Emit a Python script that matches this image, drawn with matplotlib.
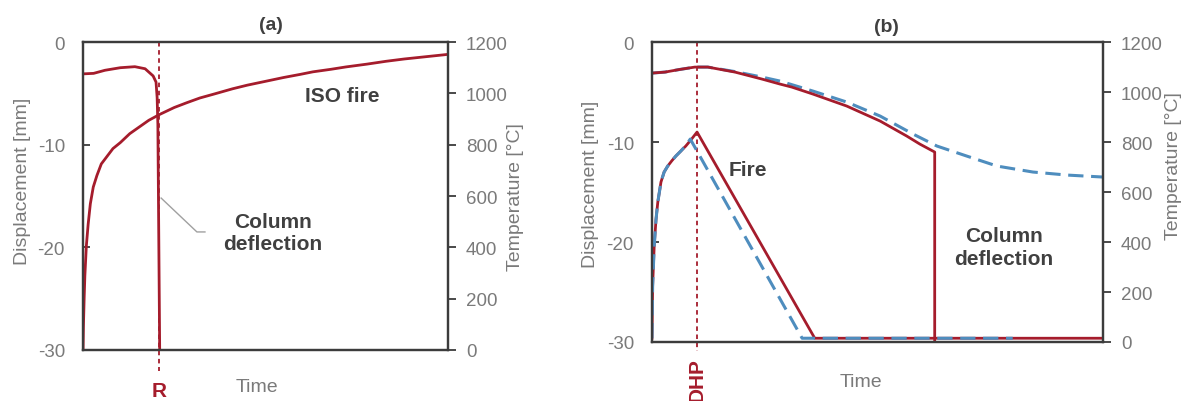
import matplotlib
matplotlib.use("Agg")
import matplotlib.pyplot as plt
import matplotlib.transforms as mtransforms

plt.rcParams["font.family"] = ["Liberation Sans", "DejaVu Sans"]
plt.rcParams["axes.unicode_minus"] = False

# ---------------------------------------------------------------
# Datos (tiempo en unidades relativas 0-100)
# ---------------------------------------------------------------
# (a) curva ISO (eje derecho, grados C)
a_iso_t = [0, 0.1, 0.3, 0.5, 0.9, 1.4, 2.0, 2.8, 3.8, 5.0, 6.6, 8.2, 10.2, 12.8, 15.7, 18, 21,
           25, 28.5, 32, 35.8, 41, 45, 50, 55, 59.5, 63, 68, 72, 77.8, 83, 88, 94, 100]
a_iso_T = [0, 90, 200, 290, 405, 490, 570, 635, 680, 725, 755, 785, 808, 843, 872, 895, 918,
           945, 964, 982, 997, 1018, 1032, 1047, 1062, 1074, 1084, 1094, 1103, 1114, 1125, 1134, 1143, 1152]
# (a) flecha de la columna (eje izquierdo, mm)
a_def_t = [0, 2.9, 6, 10.2, 14.2, 17, 19.2, 20, 20.3, 20.5, 21.0]
a_def_d = [-3.1, -3.05, -2.75, -2.5, -2.4, -2.6, -3.3, -3.9, -5.4, -8.0, -30]
a_R = 20.9

# (b) flecha de la columna
b_def_red_t = [0, 2.9, 6, 9.5, 12.4, 18.4, 24.4, 28.4, 31, 35.7, 43.2, 50.6, 56.5, 59.4, 62.7, 62.7]
b_def_red_d = [-3.1, -3.0, -2.75, -2.5, -2.5, -3.0, -3.7, -4.2, -4.5, -5.2, -6.4, -7.9, -9.4, -10.2, -11.0, -30]
b_def_blue_t = [0, 2.9, 6, 9.5, 12.4, 18.4, 24.4, 28.4, 35.7, 43.2, 50.6, 57.9, 63.2, 69.8, 76.5, 84.5, 92, 100]
b_def_blue_d = [-3.1, -3.0, -2.75, -2.5, -2.5, -2.95, -3.5, -3.9, -4.9, -6.0, -7.4, -9.2, -10.4, -11.4, -12.4, -13.0, -13.3, -13.5]
# (b) temperatura del fuego
b_temp_red_t = [0, 0.15, 0.5, 0.9, 1.3, 2.0, 2.7, 3.5, 4.4, 5.3, 6.4, 7.5, 8.7, 10.0, 36.1, 100]
b_temp_red_T = [15, 224, 384, 490, 560, 640, 680, 704, 725, 744, 764, 784, 810, 840, 15, 15]
b_temp_blue_t = [0, 0.15, 0.5, 0.9, 1.3, 2.0, 2.7, 3.5, 4.4, 5.3, 6.4, 7.5, 8.5, 33.3, 80]
b_temp_blue_T = [15, 224, 384, 490, 560, 640, 680, 704, 725, 744, 764, 786, 812, 15, 15]
b_DHP = 10.0

RED = "#A51C2C"
BLUE = "#4E8DBE"
GRAY = "#7a7a7a"
DARK = "#404040"
SPINE = "#3c3c3c"


def setup_axes(ax, ax2, ylab_x, ylab_y, tlab_x, tlab_y):
    ax.set_xlim(0, 100)
    ax.set_ylim(-30, 0)
    ax2.set_ylim(0, 1200)
    ax.set_yticks([0, -10, -20, -30])
    ax2.set_yticks(range(0, 1201, 200))
    ax.set_xticks([])
    ax.tick_params(axis="y", direction="in", length=5, width=1.3, colors=SPINE,
                   labelcolor=GRAY, labelsize=13.5, pad=13)
    ax2.tick_params(axis="y", direction="out", length=6, width=1.3, colors=SPINE,
                    labelcolor=GRAY, labelsize=13.5, pad=7)
    for a in (ax, ax2):
        for s in a.spines.values():
            s.set_color(SPINE)
            s.set_linewidth(1.6)
    ax.set_ylabel("Displacement [mm]", fontsize=14, color=GRAY)
    ax.yaxis.set_label_coords(ylab_x, ylab_y)
    ax2.set_ylabel("Temperature [°C]", fontsize=14, color=GRAY)
    ax2.yaxis.set_label_coords(tlab_x, tlab_y)


fig = plt.figure(figsize=(11.83, 4.02), dpi=100)

# ---------------------------- (a) ----------------------------
ax = fig.add_axes([0.0702, 0.1269, 0.3085, 0.766])
ax2 = ax.twinx()
setup_axes(ax, ax2, -0.142, 0.55, 1.162, 0.5)

ax2.plot(a_iso_t, a_iso_T, color=RED, lw=2.0)
ax.plot(a_def_t, a_def_d, color=RED, lw=2.0)
ax.plot([a_R, a_R], [0, -32.0], color=RED, lw=1.3, ls=(0, (2.5, 2)), clip_on=False)

trans = mtransforms.blended_transform_factory(ax.transData, ax.transAxes)
ax.text(a_R, -0.133, "R", transform=trans, ha="center", va="center",
        fontsize=15, fontweight="bold", color=RED)
ax.text(0.477, -0.117, "Time", transform=ax.transAxes, ha="center", va="center",
        fontsize=14, color=GRAY)
ax.text(0.515, 1.058, "(a)", transform=ax.transAxes, ha="center", va="center",
        fontsize=14, fontweight="bold", color=DARK)
ax.text(71, -5.2, "ISO fire", ha="center", va="center", fontsize=15,
        fontweight="bold", color=DARK)
ax.text(52, -18.6, "Column\ndeflection", ha="center", va="center", fontsize=15,
        fontweight="bold", color=DARK, linespacing=1.2)
ax.plot([21.4, 31.2, 33.4], [-15.2, -18.5, -18.5], color="#a0a0a0", lw=1.0)

# ---------------------------- (b) ----------------------------
bx = fig.add_axes([0.5511, 0.1468, 0.3812, 0.746])
bx2 = bx.twinx()
setup_axes(bx, bx2, -0.117, 0.53, 1.137, 0.59)

bx.plot(b_def_blue_t, b_def_blue_d, color=BLUE, lw=2.2, ls=(0, (5, 2.5)))
bx.plot(b_def_red_t, b_def_red_d, color=RED, lw=2.0)
bx2.plot(b_temp_red_t, b_temp_red_T, color=RED, lw=2.0)
bx2.plot(b_temp_blue_t, b_temp_blue_T, color=BLUE, lw=2.2, ls=(0, (5, 2.5)))
bx.plot([b_DHP, b_DHP], [0, -30.9], color=RED, lw=1.3, ls=(0, (2.5, 2)), clip_on=False)

trans_b = mtransforms.blended_transform_factory(bx.transData, bx.transAxes)
bx.text(b_DHP, -0.123, "DHP", transform=trans_b, ha="center", va="center",
        rotation=90, fontsize=15, fontweight="bold", color=RED)
bx.text(0.463, -0.133, "Time", transform=bx.transAxes, ha="center", va="center",
        fontsize=14, color=GRAY)
bx.text(0.519, 1.053, "(b)", transform=bx.transAxes, ha="center", va="center",
        fontsize=14, fontweight="bold", color=DARK)
bx.text(21.3, -12.7, "Fire", ha="center", va="center", fontsize=15,
        fontweight="bold", color=DARK)
bx.text(78, -20.5, "Column\ndeflection", ha="center", va="center", fontsize=15,
        fontweight="bold", color=DARK, linespacing=1.3)

fig.savefig("out.png", dpi=100)
